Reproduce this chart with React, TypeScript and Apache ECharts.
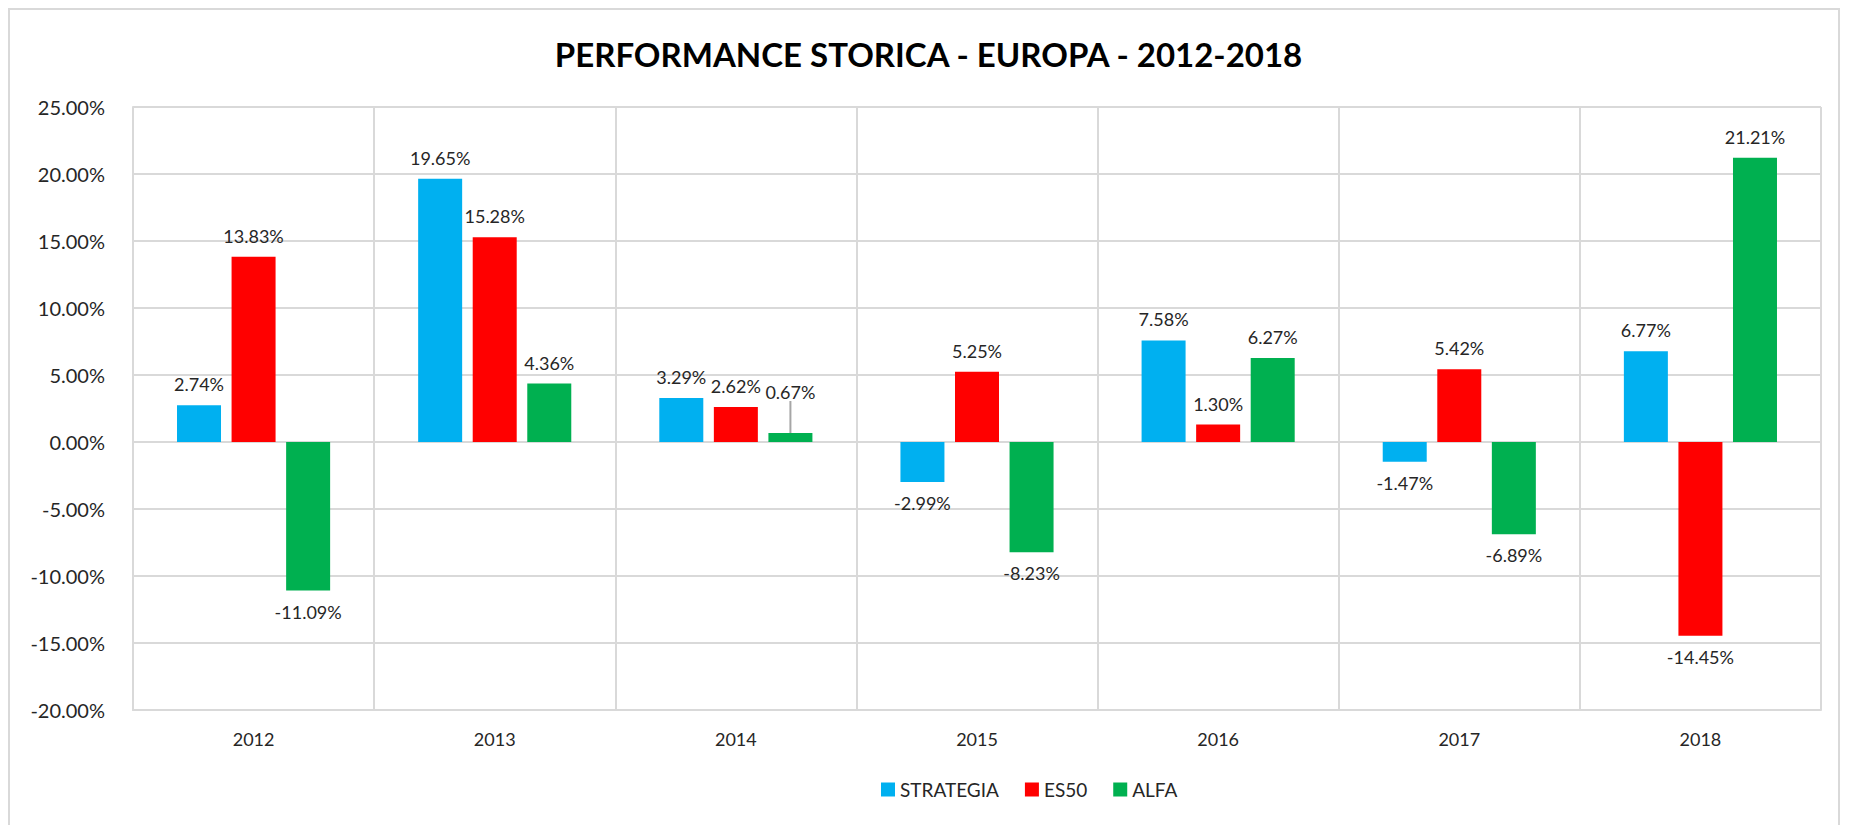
import React, { useEffect, useRef } from "react";
import * as echarts from "echarts";

const categories = ["2012", "2013", "2014", "2015", "2016", "2017", "2018"];
const seriesNames = ["STRATEGIA", "ES50", "ALFA"];
const strategia = [2.74, 19.65, 3.29, -2.99, 7.58, -1.47, 6.77];
const es50 = [13.83, 15.28, 2.62, 5.25, 1.3, 5.42, -14.45];
const alfa = [-11.09, 4.36, 0.67, -8.23, 6.27, -6.89, 21.21];
const colors = ["#00B0F0", "#FF0000", "#00B050"];
const titleText = "PERFORMANCE STORICA - EUROPA - 2012-2018";

const FONT = "Lato, 'Open Sans', sans-serif";
const RAISED_SERIES = 2; // ALFA
const RAISED_INDEX = 2; // 2014 label moved up with a leader line

function toItems(values: number[], si: number) {
  return values.map((v, i) => {
    const raised = si === RAISED_SERIES && i === RAISED_INDEX;
    return {
      value: v,
      label: { position: v >= 0 ? "top" : "bottom" },
      labelLine: {
        show: raised,
        lineStyle: { color: "#A6A6A6", width: 2 },
      },
    };
  });
}

export default function App() {
  const ref = useRef<HTMLDivElement>(null);
  useEffect(() => {
    if (!ref.current) return;
    const chart = echarts.init(ref.current, undefined, { renderer: "svg" });
    const allSeries = [strategia, es50, alfa];
    chart.setOption({
      animation: false,
      backgroundColor: "#ffffff",
      title: {
        text: titleText,
        left: "center",
        top: 32,
        textStyle: {
          fontFamily: FONT,
          fontWeight: "bold",
          fontSize: 33,
          color: "#000000",
        },
      },
      graphic: [
        {
          type: "rect",
          shape: { x: 9, y: 9, width: 1830, height: 840 },
          style: { fill: "none", stroke: "#D9D9D9", lineWidth: 2 },
          silent: true,
        },
      ],
      legend: {
        bottom: 21,
        left: 876,
        icon: "rect",
        itemWidth: 14,
        itemHeight: 14,
        itemGap: 26,
        textStyle: { fontFamily: FONT, fontSize: 19, color: "#262626" },
        data: seriesNames,
      },
      grid: { left: 133, right: 36, top: 107, bottom: 115 },
      xAxis: {
        type: "category",
        data: categories,
        axisLine: { show: true, onZero: false, lineStyle: { color: "#D9D9D9", width: 2 } },
        axisTick: { show: false },
        splitLine: { show: true, lineStyle: { color: "#D9D9D9", width: 2 } },
        axisLabel: { fontFamily: FONT, fontSize: 18, color: "#262626", margin: 20 },
      },
      yAxis: {
        type: "value",
        min: -20,
        max: 25,
        interval: 5,
        axisLine: { show: true, lineStyle: { color: "#D9D9D9", width: 2 } },
        axisTick: { show: false },
        splitLine: { show: true, lineStyle: { color: "#D9D9D9", width: 2 } },
        axisLabel: {
          fontFamily: FONT,
          fontSize: 20,
          color: "#262626",
          margin: 28,
          formatter: (v: number) => v.toFixed(2) + "%",
        },
      },
      series: allSeries.map((vals, si) => ({
        name: seriesNames[si],
        type: "bar",
        barWidth: 44,
        barGap: "24%",
        itemStyle: { color: colors[si] },
        data: toItems(vals, si),
        label: {
          show: true,
          distance: 12,
          fontFamily: FONT,
          fontSize: 18,
          color: "#262626",
          formatter: (p: any) => Number(p.value).toFixed(2) + "%",
        },
        labelLayout:
          si === RAISED_SERIES
            ? (p: any) => (p.dataIndex === RAISED_INDEX ? { dy: -20 } : {})
            : undefined,
      })),
    });
    return () => chart.dispose();
  }, []);
  return (
    <div
      ref={ref}
      style={{ position: "fixed", left: 0, top: 0, width: 1857, height: 825 }}
    />
  );
}
